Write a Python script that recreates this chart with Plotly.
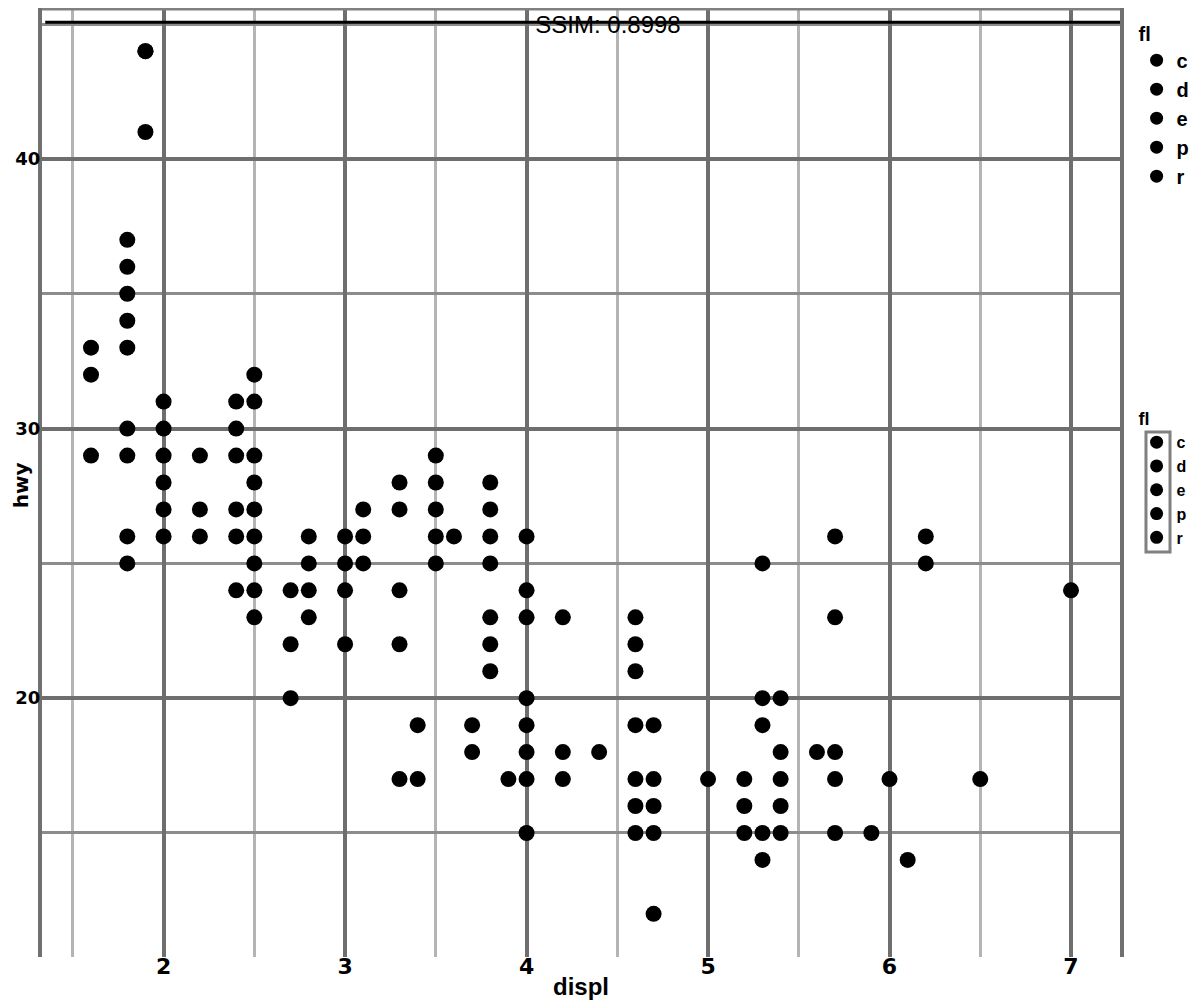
import plotly.graph_objects as go

# (displ, hwy) pairs
displ = [1.6, 1.6, 1.6,
         1.8, 1.8, 1.8, 1.8, 1.8, 1.8, 1.8, 1.8, 1.8,
         1.9, 1.9, 1.9,
         2.0, 2.0, 2.0, 2.0, 2.0, 2.0,
         2.2, 2.2, 2.2,
         2.4, 2.4, 2.4, 2.4, 2.4, 2.4,
         2.5, 2.5, 2.5, 2.5, 2.5, 2.5, 2.5, 2.5, 2.5,
         2.7, 2.7, 2.7,
         2.8, 2.8, 2.8, 2.8,
         3.0, 3.0, 3.0, 3.0,
         3.1, 3.1, 3.1,
         3.3, 3.3, 3.3, 3.3, 3.3,
         3.4, 3.4,
         3.5, 3.5, 3.5, 3.5, 3.5,
         3.6,
         3.7, 3.7,
         3.8, 3.8, 3.8, 3.8, 3.8, 3.8, 3.8,
         3.9,
         4.0, 4.0, 4.0, 4.0, 4.0, 4.0, 4.0, 4.0,
         4.2, 4.2, 4.2,
         4.4,
         4.6, 4.6, 4.6, 4.6, 4.6, 4.6, 4.6,
         4.7, 4.7, 4.7, 4.7, 4.7,
         5.0,
         5.2, 5.2, 5.2,
         5.3, 5.3, 5.3, 5.3, 5.3,
         5.4, 5.4, 5.4, 5.4, 5.4,
         5.6,
         5.7, 5.7, 5.7, 5.7, 5.7,
         5.9,
         6.0,
         6.1,
         6.2, 6.2,
         6.5,
         7.0]
hwy = [33, 32, 29,
       37, 36, 35, 34, 33, 30, 29, 26, 25,
       44, 44, 41,
       31, 30, 29, 28, 27, 26,
       29, 27, 26,
       31, 30, 29, 27, 26, 24,
       32, 31, 29, 28, 27, 26, 25, 24, 23,
       24, 22, 20,
       26, 25, 24, 23,
       26, 25, 24, 22,
       27, 26, 25,
       28, 27, 24, 22, 17,
       19, 17,
       29, 28, 27, 26, 25,
       26,
       19, 18,
       28, 27, 26, 25, 23, 22, 21,
       17,
       26, 24, 23, 20, 19, 18, 17, 15,
       23, 18, 17,
       18,
       23, 22, 21, 19, 17, 16, 15,
       19, 17, 16, 15, 12,
       17,
       17, 16, 15,
       25, 20, 19, 15, 14,
       20, 18, 17, 16, 15,
       18,
       26, 23, 18, 17, 15,
       15,
       17,
       14,
       26, 25,
       17,
       24]

fl_levels = ["c", "d", "e", "p", "r"]
x_ticks = [2, 3, 4, 5, 6, 7]
y_ticks = [20, 30, 40]

fig = go.Figure()
fig.add_trace(go.Scatter(
    x=displ, y=hwy, mode="markers", showlegend=False,
    marker=dict(color="black", size=16, line=dict(color="black", width=0)),
))
for lv in fl_levels:
    fig.add_trace(go.Scatter(x=[None], y=[None], mode="markers", name=lv,
                             marker=dict(color="black", size=13), legend="legend"))
for lv in fl_levels:
    fig.add_trace(go.Scatter(x=[None], y=[None], mode="markers", name=lv,
                             marker=dict(color="black", size=13), legend="legend2"))

xtickfont = dict(size=22, color="black", family="DejaVu Sans", weight="bold")
ytickfont = dict(size=18, color="black", family="DejaVu Sans", weight="bold")

fig.update_layout(
    width=1200, height=1000,
    margin=dict(l=34, r=88, t=0, b=51),
    paper_bgcolor="white", plot_bgcolor="white",
    font=dict(family="Liberation Sans, Arial, sans-serif", color="black"),
    title=dict(text="SSIM: 0.8998", x=0.5, xanchor="center", y=0.983, yanchor="middle",
               yref="container", font=dict(size=24, color="black")),
    xaxis=dict(range=[1.33, 7.27], tickvals=x_ticks, ticktext=[str(v) for v in x_ticks],
               showgrid=True, gridcolor="#6e6e6e", gridwidth=4,
               minor=dict(dtick=0.5, tick0=1.5, showgrid=True, gridcolor="#b4b4b4", gridwidth=3),
               zeroline=False, showline=False, ticks="", ticklabelstandoff=-6,
               tickfont=xtickfont,
               title=dict(text="displ", standoff=0,
                          font=dict(size=24, color="black", weight="bold")),
               automargin=False),
    yaxis=dict(range=[10.4, 45.6], tickvals=y_ticks, ticktext=[str(v) for v in y_ticks],
               showgrid=True, gridcolor="#6e6e6e", gridwidth=4,
               minor=dict(dtick=5, tick0=15, showgrid=True, gridcolor="#8c8c8c", gridwidth=3),
               zeroline=False, showline=True, mirror=True, linecolor="#707070", linewidth=4,
               ticks="", ticklabelstandoff=-6, tickfont=ytickfont,
               automargin=False),
    annotations=[
        dict(text="hwy", textangle=-90, xref="paper", yref="paper",
             x=-0.0195, y=0.497, xanchor="center", yanchor="middle", showarrow=False,
             font=dict(size=20, color="black", family="DejaVu Sans", weight="bold")),
    ],
    legend=dict(x=1.0154, y=0.993, xanchor="left", yanchor="top",
                title=dict(text="fl", font=dict(size=20, color="black", weight="bold")),
                font=dict(size=20, color="black", weight="bold"), itemwidth=30,
                bgcolor="rgba(0,0,0,0)"),
    legend2=dict(x=1.0154, y=0.585, xanchor="left", yanchor="top",
                 title=dict(text="fl", font=dict(size=18, color="black", weight="bold")),
                 font=dict(size=16, color="black", weight="bold"), itemwidth=30,
                 bgcolor="rgba(0,0,0,0)"),
    shapes=[
        dict(type="line", xref="paper", yref="paper", x0=0.003, x1=1.0, y0=0.985, y1=0.985,
             line=dict(color="black", width=3)),
        dict(type="line", xref="paper", yref="paper", x0=0.0, x1=1.0, y0=0.999, y1=0.999,
             line=dict(color="#808080", width=3)),
        dict(type="rect", xref="paper", yref="paper", x0=1.0241, x1=1.0464, y0=0.4268, y1=0.5532,
             line=dict(color="#808080", width=3)),
    ],
)

fig.write_html("out.html")
